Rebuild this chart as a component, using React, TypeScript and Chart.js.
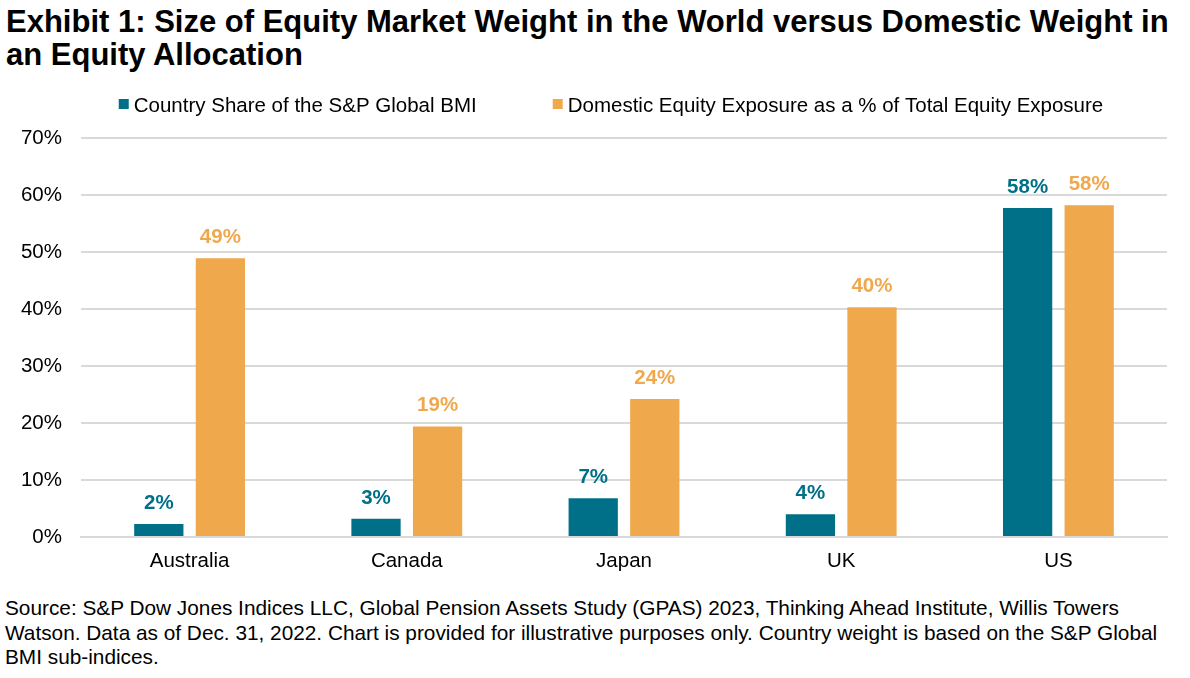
import React, { useEffect, useRef } from "react";
import { Chart, registerables } from "chart.js";

Chart.register(...registerables);

const categories = ["Australia", "Canada", "Japan", "UK", "US"];
const countryShare = [2.3, 3.2, 6.8, 4.0, 57.7];
const domesticExposure = [48.9, 19.4, 24.2, 40.3, 58.2];
const shareLabels = ["2%", "3%", "7%", "4%", "58%"];
const domesticLabels = ["49%", "19%", "24%", "40%", "58%"];
const seriesNames = [
  "Country Share of the S&P Global BMI",
  "Domestic Equity Exposure as a % of Total Equity Exposure",
];
const yTicks = [0, 10, 20, 30, 40, 50, 60, 70];

const BLUE = "#007089";
const ORANGE = "#f0a84d";
const FONT = "'Liberation Sans', Arial, sans-serif";
const FS = 20.5;
const CANVAS_TOP = 80;

const labelPlugin = {
  id: "barLabels",
  afterDatasetsDraw(chart: any) {
    const ctx = chart.ctx;
    const labelSets = [shareLabels, domesticLabels];
    chart.data.datasets.forEach((ds: any, i: number) => {
      const meta = chart.getDatasetMeta(i);
      meta.data.forEach((bar: any, j: number) => {
        ctx.save();
        ctx.font = `bold ${FS}px ${FONT}`;
        ctx.fillStyle = ds.backgroundColor;
        ctx.textAlign = "center";
        ctx.textBaseline = "alphabetic";
        ctx.fillText(labelSets[i][j], bar.x, bar.y - 15);
        ctx.restore();
      });
    });
  },
};

const legendPlugin = {
  id: "customLegend",
  afterDraw(chart: any) {
    const ctx = chart.ctx;
    ctx.save();
    ctx.font = `${FS}px ${FONT}`;
    const box = 10;
    const gapText = 5;
    const gapItem = 76;
    const items = chart.data.datasets.map((ds: any) => ({
      text: ds.label,
      color: ds.backgroundColor,
      w: ctx.measureText(ds.label).width,
    }));
    const total =
      items.reduce((s: number, it: any) => s + box + gapText + it.w, 0) +
      gapItem * (items.length - 1);
    const center = 611;
    const baseline = 112 - CANVAS_TOP;
    let x = center - total / 2;
    items.forEach((it: any) => {
      ctx.fillStyle = it.color;
      ctx.fillRect(x, baseline - 13, box, box);
      ctx.fillStyle = "#000";
      ctx.textAlign = "left";
      ctx.textBaseline = "alphabetic";
      ctx.fillText(it.text, x + box + gapText, baseline);
      x += box + gapText + it.w + gapItem;
    });
    ctx.restore();
  },
};

export default function App() {
  const ref = useRef<HTMLCanvasElement>(null);
  useEffect(() => {
    if (!ref.current) return;
    const chart = new Chart(ref.current, {
      type: "bar",
      data: {
        labels: categories,
        datasets: [
          { label: seriesNames[0], data: countryShare, backgroundColor: BLUE },
          { label: seriesNames[1], data: domesticExposure, backgroundColor: ORANGE },
        ],
      },
      options: {
        animation: false,
        responsive: false,
        maintainAspectRatio: false,
        datasets: { bar: { categoryPercentage: 0.567, barPercentage: 0.8 } },
        layout: { padding: { left: 10, right: 23, top: 58, bottom: 0 } },
        plugins: {
          legend: { display: false },
          tooltip: { enabled: false },
        },
        scales: {
          x: {
            grid: { display: false },
            border: { color: "#d9d9d9", width: 2 },
            ticks: { color: "#000", font: { family: FONT, size: FS }, padding: 4 },
            afterFit(axis: any) {
              axis.height = 43;
            },
          },
          y: {
            min: 0,
            max: 70,
            afterBuildTicks(axis: any) {
              axis.ticks = yTicks.map((v) => ({ value: v }));
            },
            afterFit(axis: any) {
              axis.width = 71;
            },
            grid: { color: "#d9d9d9", lineWidth: 2, drawTicks: false },
            border: { display: false },
            ticks: {
              color: "#000",
              font: { family: FONT, size: FS },
              padding: 19,
              callback: (v: any) => `${v}%`,
            },
          },
        },
      },
      plugins: [labelPlugin, legendPlugin],
    });
    return () => chart.destroy();
  }, []);

  return (
    <div style={{ position: "absolute", left: 0, top: 0, width: 1190, height: 678, background: "#fff", fontFamily: FONT, overflow: "hidden" }}>
      <div style={{ position: "absolute", left: 6, top: 6, fontWeight: "bold", fontSize: 31, lineHeight: "32.5px", color: "#000", whiteSpace: "nowrap" }}>
        Exhibit 1: Size of Equity Market Weight in the World versus Domestic Weight in
        <br />
        an Equity Allocation
      </div>
      <canvas ref={ref} width={1190} height={500} style={{ position: "absolute", left: 0, top: CANVAS_TOP, width: 1190, height: 500 }} />
      <div style={{ position: "absolute", left: 5, top: 596, fontSize: 20.8, lineHeight: "24.5px", color: "#000", whiteSpace: "nowrap" }}>
        Source: S&amp;P Dow Jones Indices LLC, Global Pension Assets Study (GPAS) 2023, Thinking Ahead Institute, Willis Towers
        <br />
        Watson. Data as of Dec. 31, 2022. Chart is provided for illustrative purposes only. Country weight is based on the S&amp;P Global
        <br />
        BMI sub-indices.
      </div>
    </div>
  );
}
